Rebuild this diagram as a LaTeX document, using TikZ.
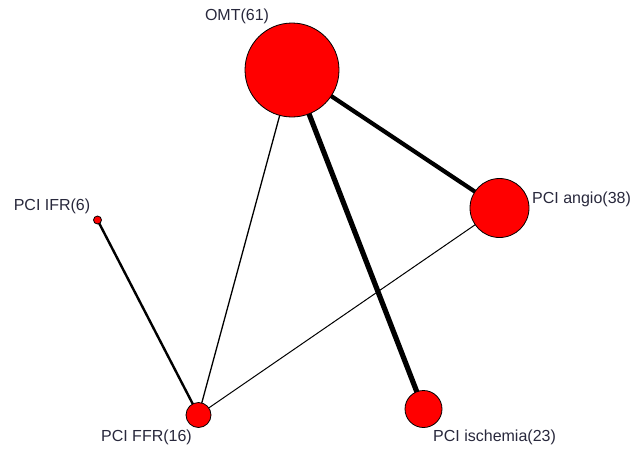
\documentclass[tikz,border=0pt]{standalone}
\usepackage{fontspec}
\setmainfont{Liberation Sans}
\definecolor{lblcol}{RGB}{40,40,60}
\begin{document}
\begin{tikzpicture}[x=1pt,y=-1pt,
  trt/.style={circle,draw=black,line width=0.8pt,fill=red,inner sep=0pt,minimum size=#1},
  lbl/.style={font=\fontsize{16}{18}\selectfont,text=lblcol,inner sep=0pt},
  edge/.style={draw=black,line width=#1}]
\useasboundingbox (0,0) rectangle (637,450);
% edges first (underneath)
\coordinate (cOMT) at (292,70);
\coordinate (cANG) at (499.5,208);
\coordinate (cIFR) at (97.5,220);
\coordinate (cFFR) at (198.5,415);
\coordinate (cISC) at (423.5,409);
\draw[edge=4.2pt] (cOMT) -- (cANG);
\draw[edge=5.2pt] (cOMT) -- (cISC);
\draw[edge=1.3pt] (cOMT) -- (cFFR);
\draw[edge=1pt] (cANG) -- (cFFR);
\draw[edge=2.4pt] (cIFR) -- (cFFR);
% nodes
\node[trt=94pt] (OMT) at (cOMT) {};
\node[trt=59pt] (ANG) at (cANG) {};
\node[trt=8pt] (IFR) at (cIFR) {};
\node[trt=25pt] (FFR) at (cFFR) {};
\node[trt=37pt] (ISC) at (cISC) {};
% labels
\node[lbl] (lOMT) at (237,16) {OMT(61)};
\node[lbl,anchor=west] (lANG) at (532,199) {PCI angio(38)};
\node[lbl] (lIFR) at (52,206) {PCI IFR(6)};
\node[lbl,anchor=east] (lFFR) at (192,437) {PCI FFR(16)};
\node[lbl,anchor=west] (lISC) at (433,437) {PCI ischemia(23)};
\end{tikzpicture}
\end{document}
